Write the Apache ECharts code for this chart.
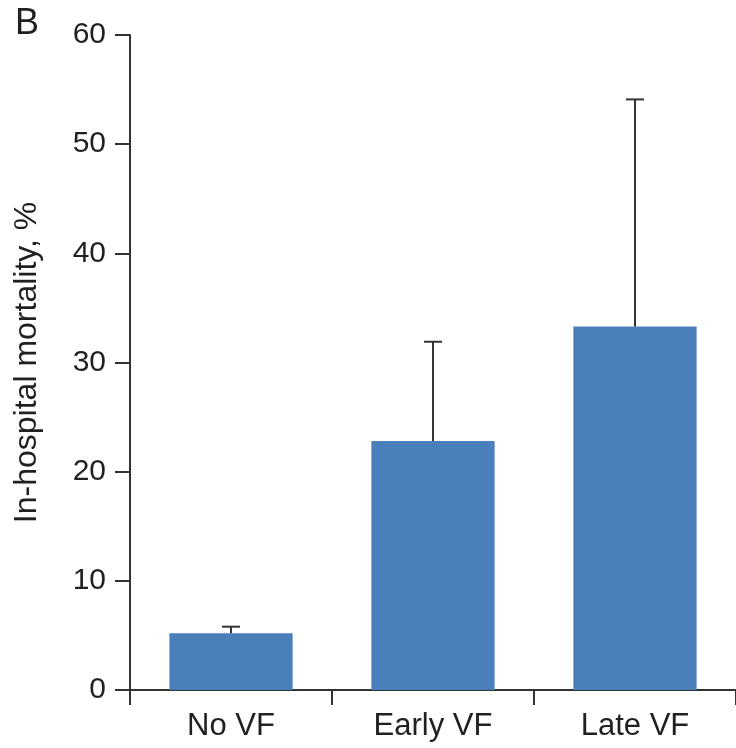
<!DOCTYPE html>
<html>
<head>
<meta charset="utf-8">
<script src="https://cdn.jsdelivr.net/npm/echarts@6/dist/echarts.min.js"></script>
<style>
html,body{margin:0;padding:0;background:#fff;}
#chart{width:736px;height:748px;}
</style>
</head>
<body>
<div id="chart"></div>
<script>
var categories = ["No VF", "Early VF", "Late VF"];
var mortality = [5.2, 22.8, 33.3];
var upperError = [5.8, 31.9, 54.1];
var yTicks = [0, 10, 20, 30, 40, 50, 60];

var chart = echarts.init(document.getElementById('chart'));
var font = '"Liberation Sans", Arial, Helvetica, sans-serif';
var textColor = '#231f20';
var errData = categories.map(function (c, i) { return [i, mortality[i], upperError[i]]; });

chart.setOption({
  animation: false,
  backgroundColor: '#ffffff',
  graphic: [{
    type: 'text', left: 15, top: 6,
    style: { text: 'B', font: '36px ' + font, fill: textColor }
  }],
  grid: { left: 130, top: 35, right: 0, bottom: 58, containLabel: false, outerBoundsMode: 'none' },
  xAxis: {
    type: 'category',
    data: categories,
    axisLine: { lineStyle: { color: '#333', width: 2 } },
    axisTick: { show: true, alignWithLabel: false, length: 15, lineStyle: { color: '#333', width: 2 } },
    axisLabel: { color: textColor, fontSize: 31, fontFamily: font, margin: 21 }
  },
  yAxis: {
    type: 'value',
    min: yTicks[0], max: yTicks[yTicks.length - 1], interval: 10,
    name: 'In-hospital mortality, %',
    nameLocation: 'middle', nameRotate: 90, nameGap: 87,
    nameTextStyle: { color: textColor, fontSize: 32, fontFamily: font },
    splitLine: { show: false },
    axisLine: { show: true, lineStyle: { color: '#333', width: 2 } },
    axisTick: { show: true, length: 15, lineStyle: { color: '#333', width: 2 } },
    axisLabel: { color: textColor, fontSize: 30, fontFamily: font, margin: 24 }
  },
  series: [{
    type: 'bar',
    data: mortality,
    barWidth: '61%',
    itemStyle: { color: '#4b7fbb' },
    z: 2
  }, {
    type: 'custom',
    data: errData,
    z: 3,
    renderItem: function (params, api) {
      var x = api.value(0);
      var top = api.coord([x, api.value(1)]);
      var up = api.coord([x, api.value(2)]);
      var hw = 9;
      var style = { stroke: '#333', lineWidth: 2 };
      return {
        type: 'group',
        children: [
          { type: 'line', shape: { x1: top[0], y1: top[1], x2: up[0], y2: up[1] }, style: style },
          { type: 'line', shape: { x1: up[0] - hw, y1: up[1], x2: up[0] + hw, y2: up[1] }, style: style }
        ]
      };
    }
  }]
});
</script>
</body>
</html>
